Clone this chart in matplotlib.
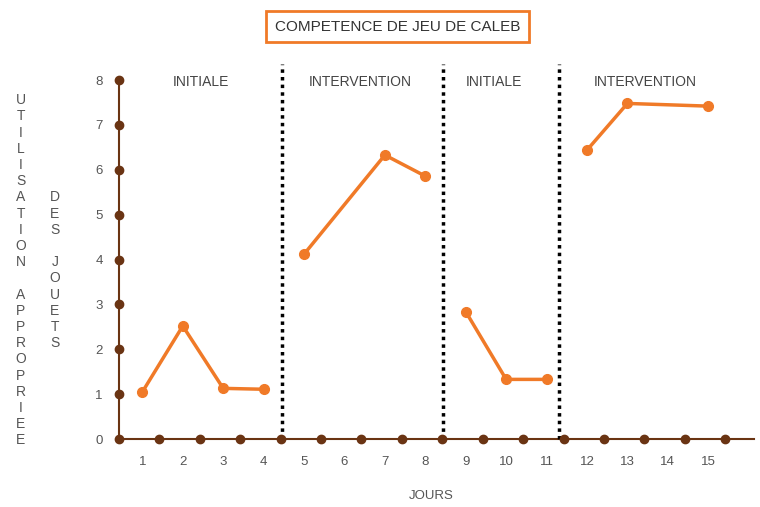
import numpy as np
import matplotlib.pyplot as plt

plt.rcParams['font.family'] = ['Liberation Sans', 'DejaVu Sans']

# données
jours_initiale1 = [1, 2, 3, 4]
score_initiale1 = [1.05, 2.52, 1.13, 1.11]
jours_interv1 = [5, 7, 8]
score_interv1 = [4.12, 6.33, 5.86]
jours_initiale2 = [9, 10, 11]
score_initiale2 = [2.84, 1.33, 1.33]
jours_interv2 = [12, 13, 15]
score_interv2 = [6.44, 7.48, 7.42]

phases = ['INITIALE', 'INTERVENTION', 'INITIALE', 'INTERVENTION']
phase_label_x = [2.45, 6.4, 9.7, 13.45]
limites = [4.45, 8.45, 11.3]
jours = list(range(1, 16))
graduations_y = list(range(0, 9))

orange = '#f07a28'
brun = '#6a3413'
gris = '#555555'

fig = plt.figure(figsize=(7.6, 5.07), dpi=100)
ax = fig.add_axes([0.157, 0.134, 0.835, 0.708])
ax.set_xlim(0.43, 16.13)
ax.set_ylim(0, 8)

for s in ['top', 'right']:
    ax.spines[s].set_visible(False)
for s in ['left', 'bottom']:
    ax.spines[s].set_color(brun)
    ax.spines[s].set_linewidth(1.5)

# points bruns sur les axes
ax.plot(np.array(jours) + 0.42, np.zeros(len(jours)), 'o', color=brun, ms=6, clip_on=False, zorder=5)
ax.plot(np.zeros(len(graduations_y)) + 0.43, graduations_y, 'o', color=brun, ms=6, clip_on=False, zorder=5)

ax.set_xticks(jours)
ax.set_xticklabels([str(j) for j in jours])
ax.set_yticks(graduations_y)
ax.tick_params(axis='both', length=0, colors=gris, labelsize=9.5)
ax.tick_params(axis='x', pad=12)
ax.tick_params(axis='y', pad=12)

for x in limites:
    ax.plot([x, x], [0, 8.35], color='black', linestyle=(0, (1, 1.2)), lw=2.5, clip_on=False, zorder=3)

for xs, ys in [(jours_initiale1, score_initiale1), (jours_interv1, score_interv1),
               (jours_initiale2, score_initiale2), (jours_interv2, score_interv2)]:
    ax.plot(xs, ys, '-o', color=orange, lw=2.5, ms=7, zorder=4)

for nom, x in zip(phases, phase_label_x):
    ax.text(x, 7.95, nom, ha='center', va='center', fontsize=10, color='#444444')

fig.text(0.523, 0.947, 'COMPETENCE DE JEU DE CALEB', ha='center', va='center',
         fontsize=11, color='#333333',
         bbox=dict(boxstyle='square,pad=0.55', fc='white', ec=orange, lw=2))

fig.text(0.568, 0.022, 'JOURS', ha='center', va='center', fontsize=9.5, color=gris)

label1 = 'UTILISATION APPROPRIEE'
label2 = 'DES JOUETS'
fig.text(0.027, 0.467, '\n'.join(label1), ha='center', va='center', fontsize=10,
         color=gris, linespacing=1.2)
fig.text(0.072, 0.467, '\n'.join(label2), ha='center', va='center', fontsize=10,
         color=gris, linespacing=1.2)

fig.savefig('out.png', dpi=100)
